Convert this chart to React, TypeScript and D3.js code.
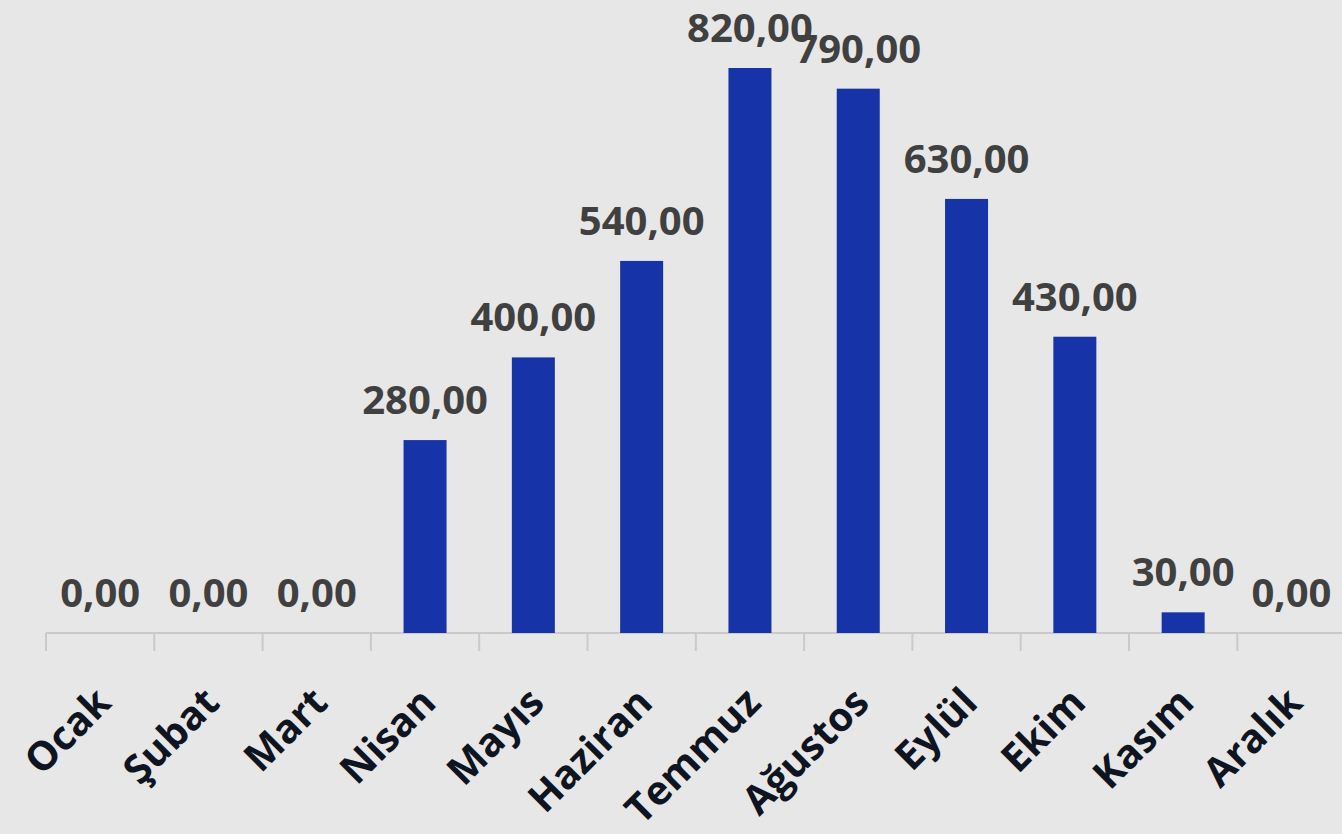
import React from "react";
import * as d3 from "d3";

const months = ["Ocak","Şubat","Mart","Nisan","Mayıs","Haziran","Temmuz","Ağustos","Eylül","Ekim","Kasım","Aralık"];
const values = [0,0,0,280,400,540,820,790,630,430,30,0];

const W = 1342, H = 834;
const x0 = 46, step = 108.3;
const baseY = 633;

export default function App() {
  const x = d3.scaleBand<string>().domain(months).range([x0, x0 + step * 12]).paddingInner(0).paddingOuter(0);
  const y = d3.scaleLinear().domain([0, 820]).range([baseY, 68]);
  const bw = 43;
  const fmt = (v: number) => v.toFixed(2).replace(".", ",");
  return (
    <svg width={W} height={H} style={{ position: "absolute", left: 0, top: 0, background: "#e7e7e7" }}>
      <rect x={0} y={0} width={W} height={H} fill="#e7e7e7" />
      <line x1={x0} x2={W} y1={baseY} y2={baseY} stroke="#cacaca" strokeWidth={2} />
      {months.map((m, i) => (
        <line key={"t" + i} x1={x(m)!} x2={x(m)!} y1={baseY} y2={baseY + 18} stroke="#cacaca" strokeWidth={2} />
      ))}
      {values.map((v, i) => {
        const cx = x(months[i])! + x.bandwidth() / 2;
        return v > 0 ? (
          <rect key={"b" + i} x={cx - bw / 2} y={y(v)} width={bw} height={baseY - y(v)} fill="#1733a8" />
        ) : null;
      })}
      {values.map((v, i) => {
        const cx = x(months[i])! + x.bandwidth() / 2;
        return (
          <text key={"l" + i} x={cx} y={y(v) - 26} textAnchor="middle" fontFamily="'Open Sans', sans-serif" fontWeight={700} fontSize={40} fill="#404040">
            {fmt(v)}
          </text>
        );
      })}
      {months.map((m, i) => {
        const cx = x(m)! + x.bandwidth() / 2;
        return (
          <text key={"m" + i} transform={`translate(${cx + 13},${baseY + 72}) rotate(-45)`} textAnchor="end" fontFamily="'Open Sans', sans-serif" fontWeight={700} fontSize={40} fill="#0f1520">
            {m}
          </text>
        );
      })}
    </svg>
  );
}
